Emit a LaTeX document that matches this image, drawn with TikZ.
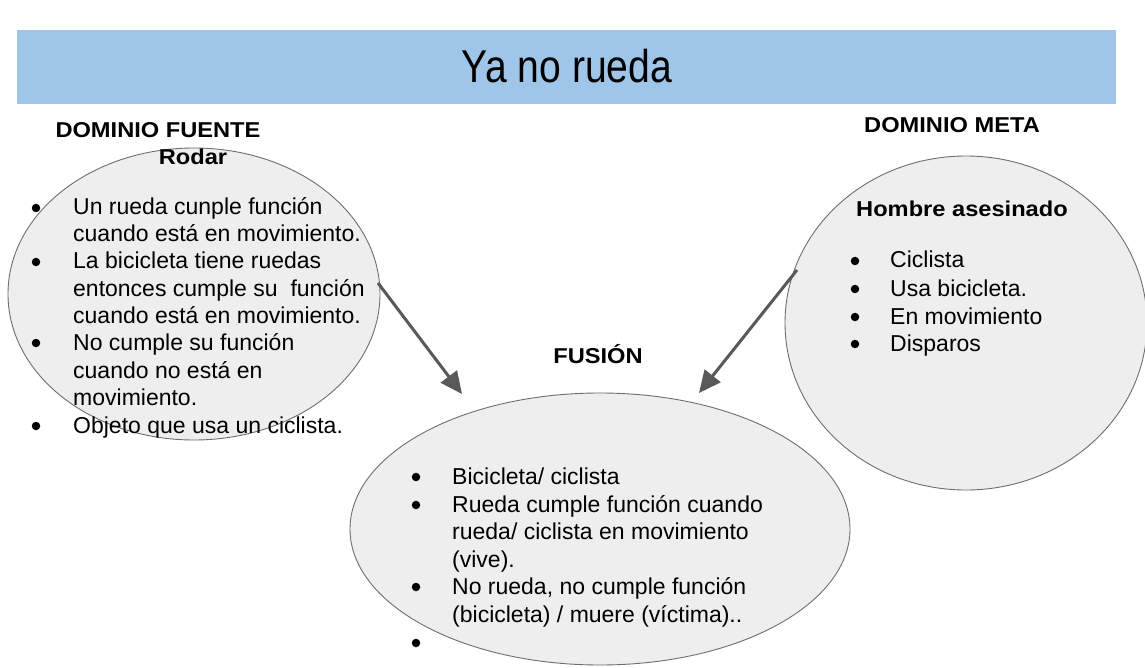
\documentclass[tikz,border=0pt]{standalone}
\usepackage{fontspec}
\setmainfont{Liberation Sans}
\usetikzlibrary{shapes.geometric,arrows.meta}
\definecolor{banner}{HTML}{9FC5E8}
\definecolor{ellfill}{HTML}{EEEEEE}
\definecolor{ellline}{HTML}{6E6E6E}
\definecolor{arrowc}{HTML}{595959}
\tikzset{
  blob/.style={ellipse, draw=ellline, line width=0.9pt, fill=ellfill, inner sep=0pt},
  tx/.style={font=\fontsize{23}{27}\selectfont, anchor=base west, inner sep=0pt},
  bul/.style={circle, fill=black, inner sep=0pt, minimum size=8.5pt, yshift=7pt},
  hd/.style={font=\fontsize{21.5}{25}\selectfont\bfseries, anchor=base, inner sep=0pt},
  link/.style={draw=arrowc, line width=3pt, -{Triangle[length=22pt,width=20pt]}}
}
\newcommand{\hdtxt}[1]{\scalebox{1.1}[1]{#1}}
\begin{document}
\begin{tikzpicture}[x=1pt,y=-1pt]
\useasboundingbox[fill=white] (0,0) rectangle (1145,668);
% banner
\node[fill=banner, minimum width=1099pt, minimum height=74pt, inner sep=0pt, anchor=north west] (ban) at (17,30) {};
\node[font=\fontsize{46}{50}\selectfont, inner sep=0pt, anchor=base] (title) at (567,83) {\scalebox{0.85}[1]{Ya no rueda}};
% ellipses
\node[blob, minimum width=372pt, minimum height=292pt] (L) at (194,294) {};
\node[blob, minimum width=362pt, minimum height=334pt] (R) at (966,323) {};
\node[blob, minimum width=500pt, minimum height=272pt] (F) at (600,529) {};
% headings
\node[hd] (hL) at (158,138) {\hdtxt{DOMINIO FUENTE}};
\node[hd] (hL2) at (193,165) {\hdtxt{Rodar}};
\node[hd] (hR) at (952,133) {\hdtxt{DOMINIO META}};
\node[hd] (hR2) at (962,217) {\hdtxt{Hombre asesinado}};
\node[hd] (hF) at (598,363) {\hdtxt{FUSIÓN}};
% left list
\node[bul] (lb1) at (36,215) {};
\node[tx] (l1) at (73,215) {Un rueda cunple función};
\node[tx] (l2) at (73,242) {cuando está en movimiento.};
\node[bul] (lb2) at (36,269) {};
\node[tx] (l3) at (73,269) {La bicicleta tiene ruedas};
\node[tx] (l4) at (73,296) {entonces cumple su\ \ función};
\node[tx] (l5) at (73,323) {cuando está en movimiento.};
\node[bul] (lb3) at (36,350) {};
\node[tx] (l6) at (73,350) {No cumple su función};
\node[tx] (l7) at (73,378) {cuando no está en};
\node[tx] (l8) at (73,405) {movimiento.};
\node[bul] (lb4) at (36,433) {};
\node[tx] (l9) at (73,433) {Objeto que usa un ciclista.};
% right list
\node[bul] (rb1) at (855,268) {};
\node[tx] (r1) at (890,268) {Ciclista};
\node[bul] (rb2) at (855,296) {};
\node[tx] (r2) at (890,296) {Usa bicicleta.};
\node[bul] (rb3) at (855,324) {};
\node[tx] (r3) at (890,324) {En movimiento};
\node[bul] (rb4) at (855,351) {};
\node[tx] (r4) at (890,351) {Disparos};
% fusion list
\node[bul] (fb1) at (416,484) {};
\node[tx] (f1) at (452,484) {Bicicleta/ ciclista};
\node[bul] (fb2) at (416,512) {};
\node[tx] (f2) at (452,512) {Rueda cumple función cuando};
\node[tx] (f3) at (452,539) {rueda/ ciclista en movimiento};
\node[tx] (f4) at (452,567) {(vive).};
\node[bul] (fb3) at (416,594) {};
\node[tx] (f5) at (452,594) {No rueda, no cumple función};
\node[tx] (f6) at (452,622) {(bicicleta) / muere (víctima)..};
\node[bul] (fb4) at (416,650) {};
% arrows
\coordinate (a1s) at (378,283);
\coordinate (a1e) at (462,394);
\coordinate (a2s) at (797,270);
\coordinate (a2e) at (699,393);
\draw[link] (a1s) -- (a1e);
\draw[link] (a2s) -- (a2e);
\end{tikzpicture}
\end{document}
